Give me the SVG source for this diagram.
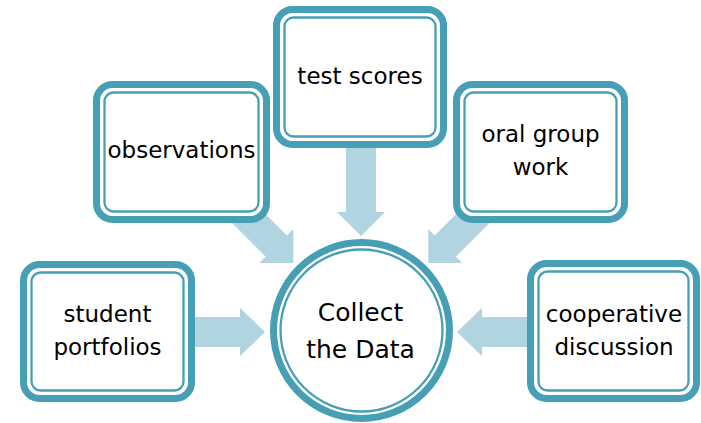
<svg xmlns="http://www.w3.org/2000/svg" width="701" height="423" viewBox="0 0 701 423">
<defs>
<style>
.outer{fill:#ffffff;stroke:#479fb6;stroke-width:7}
.inner{fill:none;stroke:#479fb6;stroke-width:2.3}
.arrow{fill:#b0d4e0;stroke:none}
.lbl{font-family:"DejaVu Sans","Verdana",sans-serif;font-size:23px;fill:#000000;text-anchor:middle}
.big{font-size:25px}
</style>
<polygon id="arrowShape" points="-85,-15 -24,-15 -24,-24 0,0 -24,24 -24,15 -85,15"/>
</defs>
<rect width="701" height="423" fill="#ffffff"/>
<g id="connectors">
<polygon class="arrow" points="188,317 240,317 240,308 265,332 240,356 240,347 188,347"/>
<polygon class="arrow" points="534,317 482,317 482,308 457,332 482,356 482,347 534,347"/>
<polygon class="arrow" points="346,142 376,142 376,212 385,212 361,236 337,212 346,212"/>
<use class="arrow" href="#arrowShape" transform="translate(293.3,263) rotate(45)"/>
<use class="arrow" href="#arrowShape" transform="translate(428.3,263) rotate(135)"/>
</g>
<g id="node-test-scores">
<rect class="outer" x="276.5" y="9.5" width="167" height="135" rx="16"/>
<rect class="inner" x="284.5" y="17.5" width="151" height="119" rx="9"/>
<text class="lbl" x="360" y="83.5">test scores</text>
</g>
<g id="node-observations">
<rect class="outer" x="96.5" y="84.5" width="170" height="135" rx="16"/>
<rect class="inner" x="104.5" y="92.5" width="154" height="119" rx="9"/>
<text class="lbl" x="181.5" y="158">observations</text>
</g>
<g id="node-oral-group-work">
<rect class="outer" x="456.5" y="84.5" width="168" height="135" rx="16"/>
<rect class="inner" x="464.5" y="92.5" width="152" height="119" rx="9"/>
<text class="lbl" x="540.5" y="142">oral group</text>
<text class="lbl" x="540.5" y="175">work</text>
</g>
<g id="node-student-portfolios">
<rect class="outer" x="23.5" y="264.5" width="168" height="134" rx="16"/>
<rect class="inner" x="31.5" y="272.5" width="152" height="118" rx="9"/>
<text class="lbl" x="107.5" y="322">student</text>
<text class="lbl" x="107.5" y="355">portfolios</text>
</g>
<g id="node-cooperative-discussion">
<rect class="outer" x="530.5" y="263.5" width="166" height="135" rx="16"/>
<rect class="inner" x="538.5" y="271.5" width="150" height="119" rx="9"/>
<text class="lbl" x="614" y="322">cooperative</text>
<text class="lbl" x="614" y="354.5">discussion</text>
</g>
<g id="node-collect-the-data">
<circle class="outer" cx="361.5" cy="330.5" r="88"/>
<circle class="inner" cx="361.5" cy="330.5" r="81"/>
<text class="lbl big" x="360.5" y="321">Collect</text>
<text class="lbl big" x="360.5" y="357.5">the Data</text>
</g>
</svg>
